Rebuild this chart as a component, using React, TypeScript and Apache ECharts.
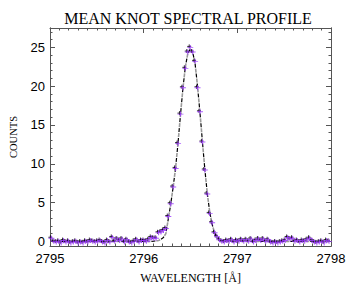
import React, { useEffect, useRef } from "react";
import * as echarts from "echarts";

const TITLE = "MEAN KNOT SPECTRAL PROFILE";
const X_NAME = "WAVELENGTH [Å]";
const Y_NAME = "COUNTS";

const WAVE_START = 2795.015;
const WAVE_STEP = 0.026;

const X_MIN = 2795;
const X_MAX = 2798;
const Y_MIN = -0.6;
const Y_MAX = 27.5;
const Y_MAJOR = [0, 5, 10, 15, 20, 25];
const Y_MINOR = [0, 1, 2, 3, 4, 5, 6, 7, 8, 9, 10, 11, 12, 13, 14, 15, 16, 17, 18, 19, 20, 21, 22, 23, 24, 25, 26, 27];

// observed counts, one per wavelength sample
const COUNTS = [
  0.4, 0.0, -0.1, 0.0, -0.2, 0.1, -0.1, 0.0, -0.2, -0.1,
  0.0, -0.2, -0.1, -0.2, 0.0, -0.1, 0.1, 0.0, -0.1, 0.0,
  0.1, -0.1, -0.2, 0.1, -0.1, 0.5, 0.0, 0.3, 0.1, 0.3,
  -0.1, 0.2, -0.1, -0.2, 0.0, 0.2, -0.1, 0.1, 0.1, 0.0,
  0.2, 0.5, 0.4, 0.4, 1.1, 1.2, 1.4, 1.65, 3.2, 4.85,
  7.0, 9.4, 12.6, 16.4, 19.8, 22.3, 24.4, 25.0, 24.4, 23.2,
  19.8, 16.7, 12.8, 9.2, 6.1, 3.6, 2.4, 1.1, 0.6, 0.2,
  0.0, -0.1, 0.1, 0.0, 0.2, -0.1, 0.1, 0.0, 0.2, 0.0,
  0.2, 0.0, 0.3, -0.1, 0.1, 0.3, 0.1, 0.3, 0.0, 0.2,
  -0.1, -0.2, -0.1, -0.2, -0.1, 0.0, 0.1, 0.5, 0.3, 0.4,
  0.0, 0.1, -0.1, 0.1, 0.0, 0.2, 0.4, 0.1, -0.1, -0.2,
  -0.1, 0.0, -0.2, 0.1, 0.0,
];

// fitted profile, one per wavelength sample
const FIT = [
  0, 0, 0, 0, 0, 0, 0, 0, 0, 0,
  0, 0, 0, 0, 0, 0, 0, 0, 0, 0,
  0, 0, 0, 0, 0, 0, 0, 0, 0, 0,
  0, 0, 0, 0, 0, 0, 0, 0, 0, 0,
  0, 0, 0.02, 0.05, 0.1, 0.25, 0.5, 1.0, 2.9, 4.8,
  7.0, 9.5, 12.7, 16.3, 19.7, 22.5, 24.2, 24.8, 24.4, 22.9,
  20.0, 16.6, 12.9, 9.3, 6.2, 3.8, 2.2, 1.1, 0.55, 0.25,
  0.1, 0.04, 0, 0, 0, 0, 0, 0, 0, 0,
  0, 0, 0, 0, 0, 0, 0, 0, 0, 0,
  0, 0, 0, 0, 0, 0, 0, 0, 0, 0,
  0, 0, 0, 0, 0, 0, 0, 0, 0, 0,
  0, 0, 0, 0, 0,
];

const WAVES = COUNTS.map((_, i) => +(WAVE_START + i * WAVE_STEP).toFixed(4));

export default function App() {
  const ref = useRef<HTMLDivElement>(null);
  useEffect(() => {
    if (!ref.current) return;
    const chart = echarts.init(ref.current, null, { renderer: "svg" });
    const axisColor = "#555";
    const labelFont = "Liberation Sans";
    const serif = "Liberation Serif";
    const dataPts = WAVES.map((w, i) => [w, COUNTS[i]]);
    const fitPts = WAVES.map((w, i) => [w, FIT[i]]);
    const xBase = {
      type: "value",
      min: X_MIN,
      max: X_MAX,
      interval: 1,
      splitLine: { show: false },
      axisLine: { show: true, onZero: false, lineStyle: { color: axisColor, width: 1 } },
      axisTick: { show: true, inside: true, length: 5, lineStyle: { color: axisColor } },
      minorTick: { show: true, splitNumber: 10, length: 2.5, lineStyle: { color: axisColor } },
    };
    const yBase = {
      type: "value",
      min: Y_MIN,
      max: Y_MAX,
      splitLine: { show: false },
      axisLine: { show: true, onZero: false, lineStyle: { color: axisColor, width: 1 } },
    };
    chart.setOption({
      animation: false,
      backgroundColor: "#fff",
      grid: { left: 45, top: 28, right: 26, bottom: 35, containLabel: false },
      graphic: [
        {
          type: "text",
          x: 188,
          y: 18,
          style: {
            text: TITLE,
            textAlign: "center",
            textVerticalAlign: "middle",
            fontFamily: serif,
            fontSize: 16,
            fill: "#000",
          },
        },
      ],
      xAxis: [
        {
          ...xBase,
          position: "bottom",
          axisLabel: {
            show: true,
            margin: 6,
            color: "#000",
            fontFamily: labelFont,
            fontSize: 13,
            formatter: (v: number) => String(v),
          },
          name: X_NAME,
          nameLocation: "middle",
          nameGap: 26,
          nameTextStyle: { fontFamily: serif, fontSize: 12, color: "#000" },
        },
        { ...xBase, position: "top", axisLabel: { show: false } },
      ],
      yAxis: [
        {
          ...yBase,
          position: "left",
          axisTick: { show: true, inside: true, length: 5, customValues: Y_MAJOR, lineStyle: { color: axisColor } },
          axisLabel: {
            show: true,
            customValues: Y_MAJOR,
            margin: 5,
            color: "#000",
            fontFamily: labelFont,
            fontSize: 13,
          },
          name: Y_NAME,
          nameLocation: "middle",
          nameGap: 31,
          nameRotate: 90,
          nameTextStyle: { fontFamily: serif, fontSize: 10.5, color: "#000" },
        },
        {
          ...yBase,
          position: "left",
          axisTick: { show: true, inside: true, length: 2.5, customValues: Y_MINOR, lineStyle: { color: axisColor } },
          axisLabel: { show: false },
        },
        {
          ...yBase,
          position: "right",
          axisTick: { show: true, inside: true, length: 5, customValues: Y_MAJOR, lineStyle: { color: axisColor } },
          axisLabel: { show: false },
        },
        {
          ...yBase,
          position: "right",
          axisTick: { show: true, inside: true, length: 2.5, customValues: Y_MINOR, lineStyle: { color: axisColor } },
          axisLabel: { show: false },
        },
      ],
      series: [
        {
          type: "line",
          xAxisIndex: 0,
          yAxisIndex: 0,
          data: fitPts,
          showSymbol: false,
          symbol: "none",
          lineStyle: { color: "#9a9a9a", width: 1.6, type: [4, 6], dashOffset: 5 },
          z: 2,
        },
        {
          type: "line",
          xAxisIndex: 0,
          yAxisIndex: 0,
          data: fitPts,
          showSymbol: false,
          symbol: "none",
          lineStyle: { color: "#000", width: 1.2, type: [4, 6] },
          z: 3,
        },
        {
          type: "scatter",
          xAxisIndex: 0,
          yAxisIndex: 0,
          data: dataPts,
          symbol: "path://M0,3H6M3,0V6",
          symbolSize: 4,
          symbolOffset: [-1, -1],
          itemStyle: { color: "#000", borderColor: "#000", borderWidth: 1 },
          z: 4,
        },
        {
          type: "scatter",
          xAxisIndex: 0,
          yAxisIndex: 0,
          data: dataPts,
          symbol: "path://M0,3H8M4,0V6",
          symbolSize: [6, 5],
          itemStyle: { color: "#9933ff", borderColor: "#9933ff", borderWidth: 1 },
          z: 5,
        },
      ],
    });
    return () => chart.dispose();
  }, []);
  return <div ref={ref} style={{ width: 357, height: 289, position: "absolute", left: 0, top: 0 }} />;
}
